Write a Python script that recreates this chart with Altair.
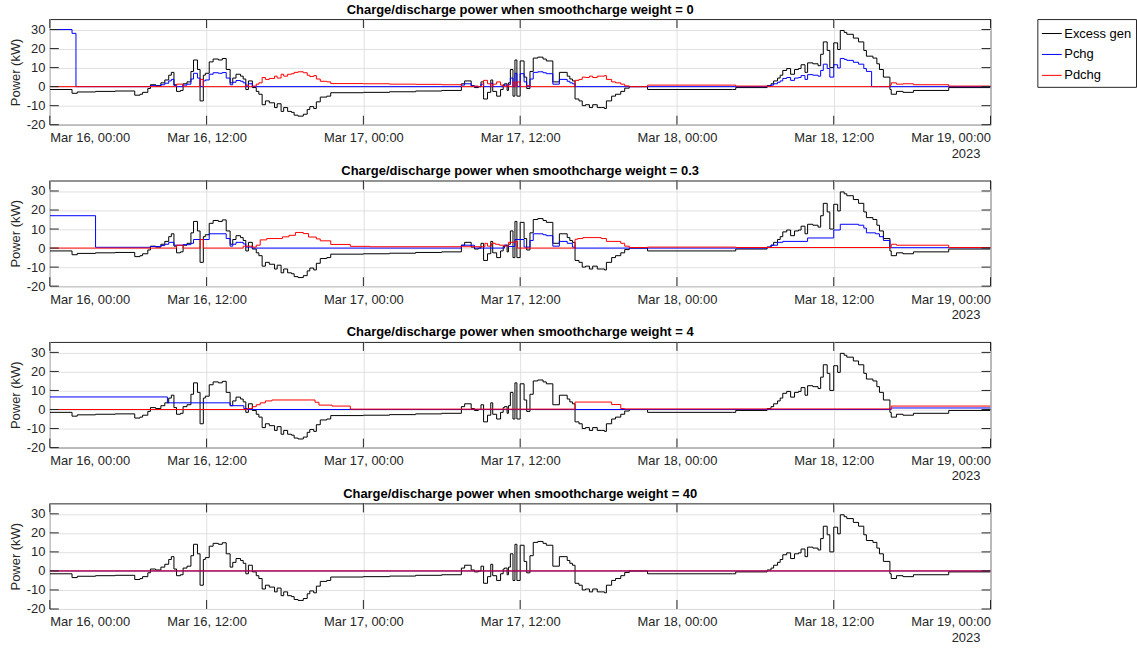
import altair as alt
import pandas as pd

# ---- axis ticks and labels -------------------------------------------------
tick_hours = [0, 12, 24, 36, 48, 60, 72]
tick_labels = ["Mar 16, 00:00", "Mar 16, 12:00", "Mar 17, 00:00", "Mar 17, 12:00",
               "Mar 18, 00:00", "Mar 18, 12:00", "Mar 19, 00:00"]
year_label = "2023"
y_ticks = [-20, -10, 0, 10, 20, 30]

series_names = ["Excess gen", "Pchg", "Pdchg"]
series_colors = ["#000000", "#0000ff", "#ff0000"]
weights = ["0", "0.3", "4", "40"]

# ---- excess generation (kW), step changes at hours since Mar 16 00:00 ------
excess_t = [0, 1.7, 2.1, 3.5, 5.0, 6.5, 6.9, 7.1, 7.5, 7.7,
            8.1, 8.5, 8.8, 9.1, 9.3, 9.5, 9.7, 10.0, 10.2, 10.5,
            10.8, 11.0, 11.3, 11.5, 11.75, 11.9, 12.2, 12.5, 12.9, 13.2,
            13.5, 13.8, 14.0, 14.25, 14.6, 14.8, 15.0, 15.2, 15.5, 15.8,
            16.0, 16.25, 16.5, 16.8, 17.2, 17.4, 17.7, 17.9, 18.2, 18.5,
            18.7, 19.0, 19.4, 19.7, 19.9, 20.2, 20.4, 20.7, 21.2, 21.5,
            24, 26, 28, 30, 31.5, 31.75, 32.25, 32.5, 32.8, 33.0,
            33.2, 33.5, 33.75, 33.9, 34.2, 34.5, 34.7, 34.8, 35.0, 35.1,
            35.25, 35.45, 35.6, 35.75, 36.0, 36.3, 36.5, 36.75, 37.0, 37.35,
            37.75, 38.0, 38.5, 39.0, 39.6, 39.8, 40.0, 40.2, 40.5, 40.75,
            41.0, 41.3, 41.55, 41.9, 42.2, 42.45, 42.6, 43.0, 43.3, 43.7,
            44.0, 44.35, 45.75, 52.25, 52.5, 54.9, 55.2, 55.4, 55.7, 55.9,
            56.1, 56.4, 56.7, 57.0, 57.3, 57.5, 57.8, 58.0, 58.4, 58.8,
            59.0, 59.2, 59.5, 59.7, 60.0, 60.3, 60.5, 60.8, 61.0, 61.5,
            61.9, 62.3, 62.5, 63.0, 63.3, 63.5, 63.8, 64.3, 64.4, 64.8,
            65.3, 66.1, 68.8, 72]
excess_v = [-1.5, -3.5, -2.8, -2.5, -2.3, -4.5, -4, -3, -1, 1,
            0.5, 2, 3.5, 6, 7.5, 1, -2.5, -2, 1.5, 2.5,
            8, 14, 9, -7.5, 6, 7, 13, 14.5, 14, 14.8,
            9, 2, 4.5, 6.5, 5.5, 4, -1.5, 3, -0.5, -2.5,
            -4, -9.5, -7.5, -8.5, -11, -9, -13, -11, -13, -13.5,
            -15, -15.5, -14.5, -12, -10.5, -11.5, -8, -5.5, -5, -3.2,
            -3.0, -2.7, -2.3, -2.0, 1.5, 3, 0.5, -0.5, 0, 2.5,
            -6.5, -3, 3.5, -2.5, -5, -1.5, 1, 1.5, -2, 2,
            9, -5, 14, -5, 13.5, 5, -1, 8, 15, 15.5,
            14.5, 13.5, 2.5, 7.5, 5.5, 4, 3, -6.5, -7.5, -10,
            -9.5, -11, -9.5, -11, -11, -11.5, -7.5, -5, -4, -2.5,
            -0.8, 0, -1.5, -1.5, -0.5, 0.5, 1.5, 3, 4.5, 6,
            8.5, 9.5, 6.5, 9, 9.5, 11.5, 7.5, 12.5, 12, 11,
            17, 23.5, 19, 10, 23, 19.5, 29.5, 28.5, 27.5, 25.5,
            23.5, 19, 16, 15, 12, 9, 5, -1.5, -4, -2.5,
            -3, -2, -0.5, -0.5]

# ---- weight = 0 -------------------------------------------------------------
chg0_t = [0, 1.7, 2.0, 7.7, 8.1, 8.5, 8.8, 9.1, 9.3, 9.5,
          9.7, 10.2, 10.5, 10.8, 11.0, 11.3, 11.5, 11.75, 11.9, 12.2,
          12.5, 12.9, 13.2, 13.5, 13.8, 14.0, 14.25, 14.6, 14.8, 15.0,
          15.2, 15.5, 31.5, 31.75, 32.25, 32.5, 33.0, 33.2, 33.75, 33.9,
          34.7, 34.8, 35.0, 35.1, 35.25, 35.45, 35.6, 35.75, 36.0, 36.3,
          36.5, 36.75, 37.0, 37.35, 37.75, 38.0, 38.5, 39.0, 39.6, 39.8,
          40.0, 40.2, 54.9, 55.2, 55.4, 55.7, 55.9, 56.1, 56.4, 56.7,
          57.0, 57.3, 57.5, 57.8, 58.0, 58.4, 58.8, 59.0, 59.2, 59.5,
          59.7, 60.0, 60.3, 60.5, 60.8, 61.0, 61.5, 61.9, 62.3, 62.5,
          62.9, 72]
chg0_v = [30, 28, 0, 0.5, 0.3, 1, 1.8, 3, 3.8, 0.5,
          0, 0.8, 1.3, 4, 7, 4.5, 0, 3, 3.5, 6.5,
          7.3, 7, 7.4, 4.5, 1, 2.3, 3.2, 2.8, 2, 0,
          1.5, 0, 0.8, 1.5, 0.3, 0, 1.3, 0, 1.8, 0,
          0.5, 0.8, 0, 1, 4.5, 0, 7, 0, 6.8, 2.5,
          0, 4, 7.5, 7.8, 7.3, 6.8, 1.3, 3.8, 2.8, 2,
          1.5, 0, 0.3, 0.8, 1.5, 2.3, 3, 4.3, 4.8, 3.3,
          4.5, 4.8, 5.8, 3.8, 6.3, 6, 5.5, 8.5, 11.8, 9.5,
          5, 11.5, 9.8, 14.8, 14.3, 13.8, 12.8, 11.8, 9.5, 8,
          0, 0]
dchg0_t = [0, 9.7, 10.2, 11.5, 11.75, 15.0, 15.2, 15.5, 15.8, 16.0,
           16.25, 16.5, 16.8, 17.2, 17.4, 17.7, 17.9, 18.2, 18.5, 18.7,
           19.0, 19.4, 19.7, 19.9, 20.2, 20.4, 20.7, 21.2, 21.5, 24,
           26, 28, 30, 31.5, 32.5, 32.8, 33.2, 33.5, 33.75, 33.9,
           34.2, 34.5, 34.7, 35.0, 35.1, 35.45, 35.6, 35.75, 36.0, 36.5,
           36.75, 40.2, 40.5, 40.75, 41.0, 41.3, 41.55, 41.9, 42.2, 42.45,
           42.6, 43.0, 43.3, 43.7, 44.0, 44.35, 45.75, 52.25, 52.5, 54.9,
           64.3, 64.4, 64.8, 65.3, 66.1, 68.8, 72]
dchg0_v = [0, 1.3, 0, 3.8, 0, 0.8, 0, 0.3, 1.3, 2,
           4.8, 3.8, 4.3, 5.5, 4.5, 6.5, 5.5, 6.5, 6.8, 7.5,
           7.8, 7.3, 6, 5.3, 5.8, 4, 2.8, 2.5, 1.6, 1.5,
           1.3, 1.2, 1, 0, 0.3, 0, 3.3, 1.5, 0, 1.3,
           2.5, 0.8, 0, 1, 0, 2.5, 0, 2.5, 0, 0.5,
           0, 3.3, 3.8, 5, 4.8, 5.5, 4.8, 5.5, 5.5, 5.8,
           3.8, 2.5, 2, 1.3, 0.4, 0, 0.8, 0.8, 0.3, 0,
           0.8, 2, 1.3, 1.5, 1, 0.3, 0.3]

# ---- weight = 0.3 -----------------------------------------------------------
chg03_t = [0, 3.5, 7.7, 8.5, 8.8, 9.1, 9.5, 10.2, 10.8, 11.0,
           12.2, 13.5, 13.8, 14.0, 14.25, 14.8, 15.0, 15.5, 31.5, 32.5,
           34.8, 35.1, 35.6, 36.3, 36.75, 37.0, 37.75, 38.0, 38.5, 39.0,
           39.6, 40.0, 40.2, 54.9, 55.2, 55.7, 56.1, 58.0, 60.0, 60.5,
           61.9, 62.3, 62.5, 63.2, 63.5, 63.8, 64.3, 72]
chg03_v = [17, 0.4, 0.8, 1.3, 2, 3, 1.5, 1.8, 2.5, 4.5,
           7.5, 5, 1, 2, 3, 2.2, 0.5, 0, 1.5, 0,
           1.5, 0.8, 4.5, 0.5, 4, 7.5, 7, 6.5, 1, 3.5,
           2.5, 0.5, 0, 0.5, 1.5, 3, 3.5, 5.3, 9.5, 12.5,
           12, 10.5, 8, 7.5, 6, 4, 0.2, 0.2]
dchg03_t = [0, 9.7, 10.2, 11.5, 11.75, 14.8, 15.5, 15.8, 16.1, 16.6,
            17.8, 18.3, 18.8, 19.4, 19.8, 20.4, 20.7, 21.5, 23.0, 24.5,
            33.3, 33.5, 33.8, 34.1, 34.4, 34.8, 35.1, 35.6, 35.8, 40.2,
            40.4, 40.8, 42.2, 42.6, 43.7, 44.0, 44.35, 45.75, 52.5, 64.4,
            64.8, 68.8, 72]
dchg03_v = [0, 1.5, 0, 4.5, 0, 1, 0.5, 1.5, 4.3, 5,
            5.9, 6.7, 8.2, 7.6, 5.8, 4.8, 3.8, 1.9, 0.9, 0.7,
            2.5, 1, 2.5, 2, 1.5, 1, 3, 3.5, 0, 4.6,
            5, 5.5, 5, 3.5, 2.5, 1, 0.3, 0.5, 0.3, 2,
            1.5, 0.3, 0.3]

# ---- weight = 4 -------------------------------------------------------------
chg4_t = [0, 9.0, 13.8, 14.85, 15.1, 64.4, 72]
chg4_v = [6.6, 3.5, 2, 0.5, 0, 0.8, 0.8]
dchg4_t = [0, 15.1, 15.5, 15.8, 16.1, 16.5, 17.0, 20.3, 20.6, 21.6,
           23.0, 40.2, 43.0, 43.7, 44.0, 64.4, 72]
dchg4_v = [0, 0.5, 1.5, 2.5, 3.5, 4.5, 5, 3.8, 2.3, 1.8,
           0.2, 3.9, 2.6, 0.5, 0.3, 1.8, 1.8]

# ---- weight = 40 ------------------------------------------------------------
chg40_t = [0, 72]
chg40_v = [0, 0]
dchg40_t = [0, 72]
dchg40_v = [0, 0]

panel_series = [
    (chg0_t, chg0_v, dchg0_t, dchg0_v),
    (chg03_t, chg03_v, dchg03_t, dchg03_v),
    (chg4_t, chg4_v, dchg4_t, dchg4_v),
    (chg40_t, chg40_v, dchg40_t, dchg40_v),
]

PLOT_W, PLOT_H = 944, 106
TICK_LEN = 9
AX_COLOR = "#262626"
GRID_COLOR = "#e0e0e0"
FONT = "Liberation Sans"

x_label_expr = "[" + ", ".join(f"'{s}'" for s in tick_labels) + "][round(datum.value / 12)]"

x_scale = alt.Scale(domain=[0, 72], nice=False, zero=False)
y_scale = alt.Scale(domain=[-20, 35.5], nice=False, zero=False)

# one shared axis definition per channel, reused by every layer so they merge
x_axis = alt.Axis(
    values=tick_hours, labelExpr=x_label_expr, title=None, ticks=False, domain=False,
    grid=True, gridColor=GRID_COLOR, labelFontSize=13, labelColor=AX_COLOR,
    labelPadding=7, labelFont=FONT, labelOverlap=False)
y_axis = alt.Axis(
    values=y_ticks, labelExpr="'' + datum.value", title="Power (kW)", ticks=False,
    domain=False, grid=True, gridColor=GRID_COLOR, labelFontSize=13,
    labelColor=AX_COLOR, labelPadding=5, labelFont=FONT, titleFont=FONT,
    titleFontSize=13, titleFontWeight="normal", titleColor=AX_COLOR, titlePadding=4)


def frame(name, ts, vs):
    assert len(ts) == len(vs), name
    return pd.DataFrame({"t": ts, "v": vs, "series": name})


def panel(weight, chg_t, chg_v, dchg_t, dchg_v):
    df = pd.concat([
        frame("Excess gen", excess_t, excess_v),
        frame("Pchg", chg_t, chg_v),
        frame("Pdchg", dchg_t, dchg_v),
    ], ignore_index=True)

    lines = alt.Chart(df).mark_line(interpolate="step-after", strokeWidth=1, clip=True).encode(
        x=alt.X("t:Q", scale=x_scale, axis=x_axis),
        y=alt.Y("v:Q", scale=y_scale, axis=y_axis),
        color=alt.Color("series:N", scale=alt.Scale(domain=series_names, range=series_colors),
                        legend=alt.Legend(title=None)),
    )

    # inward-pointing tick marks on all four sides of the box
    xt = pd.DataFrame({"t": tick_hours})
    yt = pd.DataFrame({"v": y_ticks})
    x_bottom = alt.Chart(xt).mark_rule(color=AX_COLOR, strokeWidth=1).encode(
        x=alt.X("t:Q", scale=x_scale, axis=x_axis),
        y=alt.value(PLOT_H), y2=alt.value(PLOT_H - TICK_LEN))
    x_top = alt.Chart(xt).mark_rule(color=AX_COLOR, strokeWidth=1).encode(
        x=alt.X("t:Q", scale=x_scale, axis=x_axis),
        y=alt.value(0), y2=alt.value(TICK_LEN))
    y_left = alt.Chart(yt).mark_rule(color=AX_COLOR, strokeWidth=1).encode(
        y=alt.Y("v:Q", scale=y_scale, axis=y_axis),
        x=alt.value(0), x2=alt.value(TICK_LEN))
    y_right = alt.Chart(yt).mark_rule(color=AX_COLOR, strokeWidth=1).encode(
        y=alt.Y("v:Q", scale=y_scale, axis=y_axis),
        x=alt.value(PLOT_W - TICK_LEN), x2=alt.value(PLOT_W))

    year = alt.Chart(pd.DataFrame({"t": [tick_hours[-1]], "label": [year_label]})).mark_text(
        align="left", baseline="top", dx=-39, fontSize=13, color=AX_COLOR, font=FONT
    ).encode(x=alt.X("t:Q", scale=x_scale, axis=x_axis), y=alt.value(PLOT_H + 23), text="label:N")

    return alt.layer(lines, x_bottom, x_top, y_left, y_right, year).properties(
        width=PLOT_W, height=PLOT_H,
        title=alt.TitleParams(f"Charge/discharge power when smoothcharge weight = {weight}",
                              fontSize=13, fontWeight="bold", color="#000000", font=FONT,
                              anchor="middle", offset=2),
    )


panels = [panel(w, *s) for w, s in zip(weights, panel_series)]

chart = alt.vconcat(*panels, spacing=56, bounds="flush",
                    padding={"left": 8, "top": 2, "right": 0, "bottom": 0}).configure(
    font=FONT
).configure_view(
    stroke=AX_COLOR, strokeWidth=1
).configure_legend(
    orient="right", offset=46, strokeColor=AX_COLOR, fillColor="#ffffff", padding=4,
    symbolStrokeWidth=1, symbolSize=400, labelFontSize=13,
    labelColor="#000000", labelFont=FONT, rowPadding=3, labelOffset=2, cornerRadius=0
)

chart.save("out.html", embed_options={"renderer": "svg", "actions": False})
